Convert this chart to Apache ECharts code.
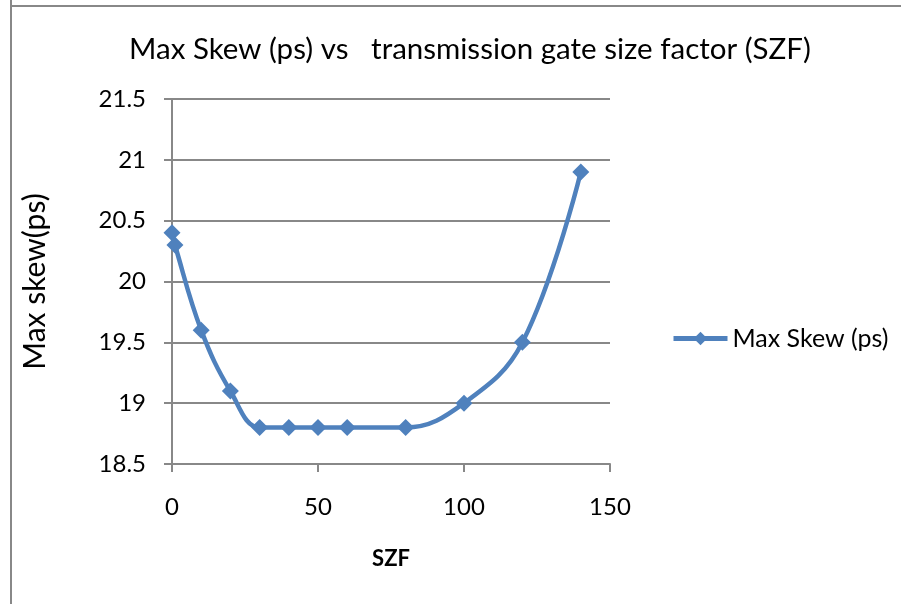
<!DOCTYPE html>
<html><head><meta charset="utf-8">
<script src="https://cdn.jsdelivr.net/npm/echarts@6/dist/echarts.min.js"></script>
<style>html,body{margin:0;padding:0;background:#fff}#c{width:901px;height:604px}</style>
</head><body><div id="c"></div>
<script>
const szf = [0, 1, 10, 20, 30, 40, 50, 60, 80, 100, 120, 140];
const maxSkew = [20.4, 20.3, 19.6, 19.1, 18.8, 18.8, 18.8, 18.8, 18.8, 19.0, 19.5, 20.9];
const seriesName = 'Max Skew (ps)';
const titleText = 'Max Skew (ps) vs   transmission gate size factor (SZF)';
const FONT = 'Lato';
const chart = echarts.init(document.getElementById('c'), null, {renderer: 'canvas'});
chart.setOption({
  animation: false,
  backgroundColor: '#fff',
  title: {text: titleText, left: 465, textAlign: 'center', top: 29,
    textStyle: {fontFamily: FONT, fontSize: 29.5, fontWeight: 'normal', color: '#000'}},
  grid: {left: 172, right: 291, top: 99, bottom: 140},
  legend: {data: [seriesName], orient: 'vertical', left: 671, top: 326, padding: 0,
    itemWidth: 54, itemHeight: 17, itemGap: 4,
    lineStyle: {width: 5},
    textStyle: {fontFamily: FONT, fontSize: 25, color: '#000'}},
  xAxis: {type: 'value', min: 0, max: 150, interval: 50,
    name: 'SZF', nameLocation: 'middle', nameGap: 84,
    nameTextStyle: {fontFamily: FONT, fontSize: 22, fontWeight: 'bold', color: '#000'},
    axisLine: {lineStyle: {color: '#888', width: 2}},
    axisTick: {show: true, length: 8, lineStyle: {color: '#888', width: 2}},
    axisLabel: {fontFamily: FONT, fontSize: 24, color: '#000', margin: 31},
    splitLine: {show: false}},
  yAxis: {type: 'value', min: 18.5, max: 21.5, interval: 0.5,
    name: 'Max skew(ps)', nameLocation: 'middle', nameGap: 122, nameRotate: 90,
    nameTextStyle: {fontFamily: FONT, fontSize: 30, color: '#000'},
    axisLine: {show: true, lineStyle: {color: '#888', width: 2}},
    axisTick: {show: true, length: 8, lineStyle: {color: '#888', width: 2}},
    axisLabel: {fontFamily: FONT, fontSize: 24, color: '#000', margin: 26,
      formatter: v => String(+v.toFixed(1))},
    splitLine: {show: true, lineStyle: {color: '#888', width: 2}}},
  series: [{name: seriesName, type: 'line', data: szf.map((x, i) => [x, maxSkew[i]]),
    smooth: 0.4, symbol: 'diamond', symbolSize: 17,
    lineStyle: {color: '#4F81BD', width: 4.5},
    itemStyle: {color: '#4F81BD'}}],
  graphic: [
    {type: 'line', shape: {x1: 11, y1: 0, x2: 11, y2: 604}, style: {stroke: '#888', lineWidth: 2}},
    {type: 'line', shape: {x1: 10, y1: 6, x2: 901, y2: 6}, style: {stroke: '#888', lineWidth: 2}}
  ]
});
</script></body></html>
